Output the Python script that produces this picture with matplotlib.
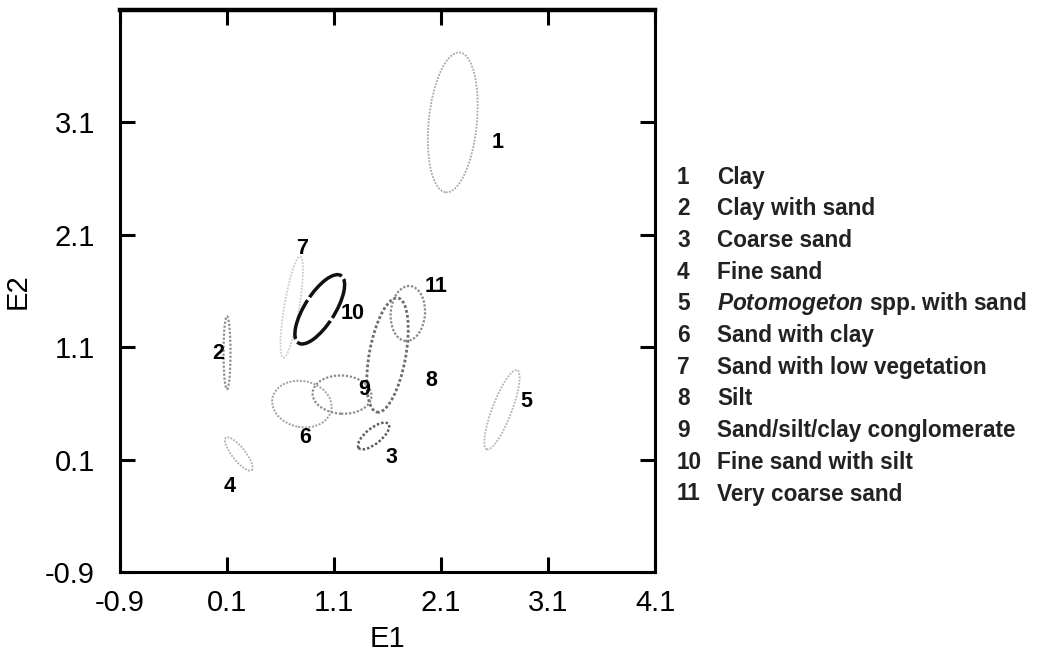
import matplotlib.pyplot as plt
from matplotlib.patches import Ellipse

# ellipse data (E1 centre, E2 centre, width, height, angle)
nums = ['1', '2', '3', '4', '5', '6', '7', '8', '9', '10', '11']
cx = [2.21, 0.10, 1.47, 0.21, 2.67, 0.80, 0.705, 1.60, 1.175, 0.967, 1.79]
cy = [3.10, 1.05, 0.31, 0.15, 0.544, 0.594, 1.456, 1.03, 0.678, 1.437, 1.40]
ew = [0.45, 0.065, 0.14, 0.12, 0.18, 0.56, 0.14, 0.34, 0.55, 0.28, 0.32]
eh = [1.25, 0.65, 0.35, 0.376, 0.76, 0.41, 0.914, 1.034, 0.34, 0.72, 0.49]
ang = [-6, 0, -53, 40, -22, -10, -10, -11, -3, -34, -5]
# where the numbers sit
lx = [2.63, 0.02, 1.64, 0.12, 2.90, 0.83, 0.80, 2.01, 1.38, 1.27, 2.05]
ly = [2.92, 1.04, 0.12, -0.14, 0.62, 0.30, 1.98, 0.80, 0.72, 1.40, 1.64]

names = ['Clay', 'Clay with sand', 'Coarse sand', 'Fine sand',
         r'$\it{Potomogeton}$ spp. with sand', 'Sand with clay',
         'Sand with low vegetation', 'Silt', 'Sand/silt/clay conglomerate',
         'Fine sand with silt', 'Very coarse sand']

xticks = [-0.9, 0.1, 1.1, 2.1, 3.1, 4.1]
yticks = [-0.9, 0.1, 1.1, 2.1, 3.1]

cols = ['#a8a8a8', '#909090', '#606060', '#b0b0b0', '#b4b4b4', '#a0a0a0',
        '#cccccc', '#6c6c6c', '#8c8c8c', '#111111', '#888888']
lws = [1.3, 1.6, 1.8, 1.3, 1.3, 1.4, 1.3, 2.0, 1.6, 2.5, 1.6]

plt.rcParams['font.family'] = ['Liberation Sans', 'DejaVu Sans']
plt.rcParams['mathtext.fontset'] = 'custom'
plt.rcParams['mathtext.it'] = 'Liberation Sans:italic:bold'
plt.rcParams['mathtext.rm'] = 'Liberation Sans:bold'

fig = plt.figure(figsize=(10.39, 6.58), dpi=100)
ax = fig.add_axes([120/1039, 1-572/658, 535/1039, 562/658])

for i in range(len(nums)):
    ls = (0, (12, 1.0)) if nums[i] == '10' else (0, (1, 0.8))
    e = Ellipse((cx[i], cy[i]), ew[i], eh[i], angle=ang[i], fill=False,
                edgecolor=cols[i], lw=lws[i], linestyle=ls)
    ax.add_patch(e)
    ax.text(lx[i], ly[i], nums[i], fontsize=15.5, fontweight='bold',
            ha='center', va='center')

ax.set_xlim(-0.9, 4.1)
ax.set_ylim(-0.9, 4.1)
ax.set_xticks(xticks)
ax.set_yticks(yticks)
ax.set_xticklabels([str(t) for t in xticks])
ax.set_yticklabels([str(t) for t in yticks])
ax.tick_params(direction='in', length=11, width=2.2, labelsize=21,
               top=True, right=True)
ax.tick_params(axis='x', pad=12)
ax.tick_params(axis='y', pad=18)
ax.set_xlabel('E1', fontsize=21, labelpad=6)
ax.set_ylabel('E2', fontsize=21, labelpad=10)
for s in ax.spines.values():
    s.set_linewidth(2.2)
ax.spines['top'].set_linewidth(3.2)

# legend as text on the right
for i in range(len(nums)):
    yy = 1 - (177 + 31.7*i)/658
    fig.text(677/1039, yy, nums[i], fontsize=16.3, fontweight='bold',
             va='center', color='#222222')
    fig.text(717/1039, yy, names[i], fontsize=16.3, fontweight='bold',
             va='center', color='#222222')

fig.savefig('out.png')
